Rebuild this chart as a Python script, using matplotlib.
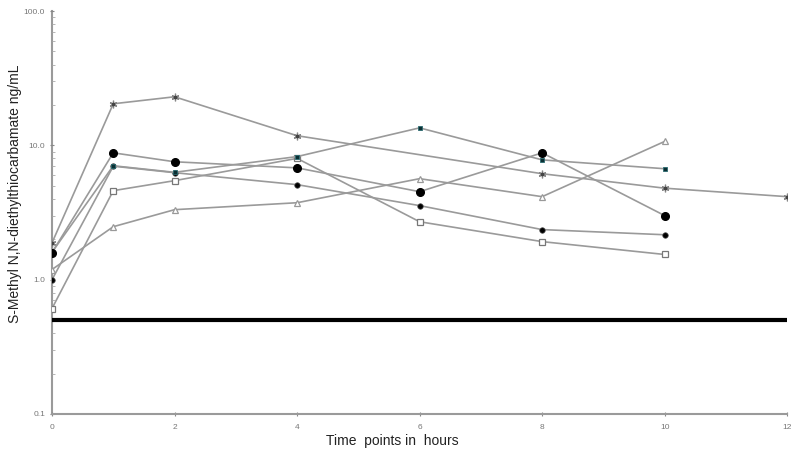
import numpy as np
import matplotlib.pyplot as plt

plt.rcParams['font.family'] = ['Liberation Sans', 'DejaVu Sans']

# concentration data (ng/mL) per subject
t_star = [0, 1, 2, 4, 8, 10, 12]
c_star = [1.88, 20.4, 23.0, 11.8, 6.15, 4.8, 4.15]

t_sq = [0, 1, 2, 4, 6, 8, 10]
c_sq = [1.6, 7.05, 6.3, 8.25, 13.5, 7.8, 6.7]

t_bigdot = [0, 1, 2, 4, 6, 8, 10]
c_bigdot = [1.59, 8.8, 7.55, 6.8, 4.52, 8.8, 3.0]

t_dot = [0, 1, 2, 4, 6, 8, 10]
c_dot = [1.0, 7.0, 6.26, 5.1, 3.56, 2.36, 2.16]

t_osq = [0, 1, 2, 4, 6, 8, 10]
c_osq = [0.61, 4.6, 5.46, 8.0, 2.7, 1.92, 1.54]

t_tri = [0, 1, 2, 4, 6, 8, 10]
c_tri = [1.19, 2.48, 3.32, 3.74, 5.65, 4.15, 10.7]

lloq = 0.5
xticks = [0, 2, 4, 6, 8, 10, 12]
yticks = [0.1, 1, 10, 100]
ylabels = ["0.1", "1.0", "10.0", "100.0"]

line_c = '#9a9a9a'

fig = plt.figure(figsize=(8, 4.61), dpi=100)
ax = fig.add_axes([0.065, 0.102, 0.919, 0.874])

ax.plot(t_star, c_star, color=line_c, lw=1.2, marker=(6, 2, 0), ms=5.5,
        mec='#888888', mew=0.9, zorder=3)
ax.plot(t_star, c_star, ls='none', marker='o', ms=1.8, color='#444444', zorder=4)
ax.plot(t_osq, c_osq, color=line_c, lw=1.2, marker='s', ms=4.2,
        mfc='white', mec='#777777', mew=0.9, zorder=3)
ax.plot(t_tri, c_tri, color=line_c, lw=1.2, marker='^', ms=5,
        mfc='white', mec='#999999', mew=0.9, zorder=3)
ax.plot(t_dot, c_dot, color=line_c, lw=1.2, marker='o', ms=4,
        mfc='black', mec='#555555', mew=0.5, zorder=3)
ax.plot(t_sq, c_sq, color=line_c, lw=1.2, marker='s', ms=3.5,
        mfc='#0b2f33', mec='#2a6a70', mew=0.6, zorder=3)
ax.plot(t_bigdot, c_bigdot, color=line_c, lw=1.2, marker='o', ms=5.5,
        mfc='black', mec='black', zorder=3)

ax.axhline(lloq, color='black', lw=3, zorder=2)

ax.set_yscale('log')
ax.set_xlim(0, 12)
ax.set_ylim(0.1, 100)
ax.set_xticks(xticks)
ax.set_xticklabels([str(v) for v in xticks])
ax.set_yticks(yticks)
ax.set_yticklabels(ylabels)

for s in ['top', 'right']:
    ax.spines[s].set_visible(False)
for s in ['left', 'bottom']:
    ax.spines[s].set_color('#9a9a9a')
    ax.spines[s].set_linewidth(1.5)
ax.spines['left'].set_zorder(1)

ax.tick_params(axis='both', which='major', length=3, width=0.8,
               color='#888888', labelsize=6, labelcolor='#777777', direction='inout')
ax.tick_params(axis='y', which='minor', length=2, width=0.6, color='#aaaaaa',
               direction='in')
ax.tick_params(axis='x', pad=6)

ax.set_xlabel("Time  points in  hours", fontsize=10, color='#222222')
ax.xaxis.set_label_coords(0.463, -0.05)
ax.set_ylabel("S-Methyl N,N-diethylthiocarbamate ng/mL", fontsize=10,
              color='#222222')
ax.yaxis.set_label_coords(-0.041, 0.546)

fig.savefig('out.png', dpi=100, facecolor='white')
